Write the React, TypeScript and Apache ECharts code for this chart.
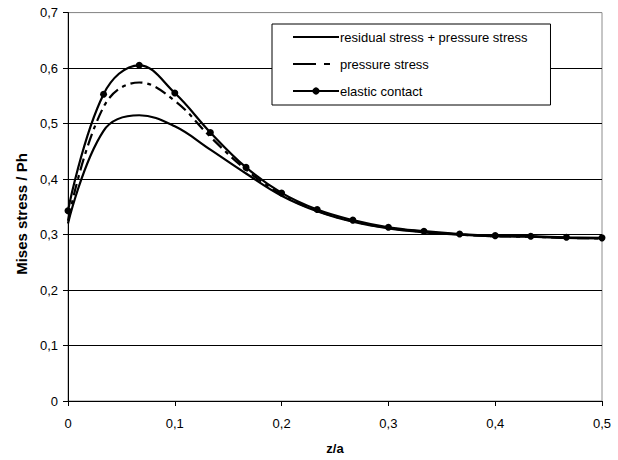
import React, { useEffect, useRef } from "react";
import * as echarts from "echarts";

const zValues = [0, 0.0333, 0.0667, 0.1, 0.1333, 0.1667, 0.2, 0.2333, 0.2667, 0.3, 0.3333, 0.3667, 0.4, 0.4333, 0.4667, 0.5];
const residualPressure = [0.32, 0.487, 0.515, 0.495, 0.453, 0.41, 0.37, 0.342, 0.323, 0.311, 0.304, 0.3, 0.297, 0.296, 0.294, 0.293];
const pressureStress = [0.325, 0.53, 0.574, 0.541, 0.476, 0.417, 0.372, 0.343, 0.324, 0.312, 0.305, 0.3, 0.297, 0.296, 0.294, 0.293];
const elasticContact = [0.343, 0.553, 0.605, 0.555, 0.484, 0.421, 0.375, 0.345, 0.326, 0.313, 0.306, 0.301, 0.298, 0.297, 0.295, 0.294];
const seriesNames = ["residual stress + pressure stress", "pressure stress", "elastic contact"];
const yTitle = "Mises stress / Ph";
const xTitle = "z/a";

const FONT = "'Liberation Sans', Arial, sans-serif";
const fmt = (v: number) => (v === 0 ? "0" : v.toFixed(1).replace(".", ","));
const pairs = (ys: number[]) => zValues.map((x, i) => [x, ys[i]]);

export default function App() {
  const ref = useRef<HTMLDivElement>(null);
  useEffect(() => {
    if (!ref.current) return;
    const chart = echarts.init(ref.current, null, { renderer: "svg" });
    chart.setOption({
      animation: false,
      backgroundColor: "#fff",
      textStyle: { fontFamily: FONT },
      grid: {
        left: 68,
        right: 16,
        top: 12.6,
        bottom: 54,
        show: true,
        borderColor: "#8c8c8c",
        borderWidth: 1,
        backgroundColor: "transparent",
      },
      legend: {
        orient: "vertical",
        left: 272,
        top: 24,
        itemWidth: 46,
        itemHeight: 9,
        itemGap: 13,
        padding: [6, 23, 7, 20],
        backgroundColor: "#fff",
        borderColor: "#000",
        borderWidth: 1,
        textStyle: { fontFamily: FONT, fontSize: 13, lineHeight: 14, color: "#000", padding: [0, 0, 0, -4] },
        data: [
          { name: seriesNames[0], itemStyle: { opacity: 0 } },
          { name: seriesNames[1], itemStyle: { opacity: 0 }, lineStyle: { type: [23, 8, 6, 20] } },
          { name: seriesNames[2] },
        ],
      },
      graphic: [
        {
          type: "text",
          x: 21.7,
          y: 214,
          rotation: Math.PI / 2,
          style: {
            text: yTitle,
            fontFamily: FONT,
            fontSize: 15,
            fontWeight: "bold",
            fill: "#000",
            align: "center",
            verticalAlign: "middle",
          },
        },
      ],
      xAxis: {
        type: "value",
        min: 0,
        max: 0.5,
        interval: 0.1,
        name: xTitle,
        nameLocation: "middle",
        nameGap: 41,
        nameTextStyle: { fontFamily: FONT, fontSize: 13, fontWeight: "bold", color: "#000" },
        axisLine: { show: true, lineStyle: { color: "#000", width: 1 } },
        axisTick: { show: true, length: 5, lineStyle: { color: "#000" } },
        axisLabel: { fontFamily: FONT, fontSize: 13, color: "#000", margin: 16, formatter: fmt },
        splitLine: { show: false },
      },
      yAxis: {
        type: "value",
        min: 0,
        max: 0.7,
        interval: 0.1,
        axisLine: { show: true, lineStyle: { color: "#000", width: 1 } },
        axisTick: { show: true, length: 5, lineStyle: { color: "#000" } },
        axisLabel: { fontFamily: FONT, fontSize: 13, color: "#000", margin: 10, formatter: fmt },
        splitLine: {
          show: true,
          lineStyle: { color: ["#000", "#000", "#000", "#000", "#000", "#000", "#000", "#8c8c8c"], width: 1 },
        },
      },
      series: [
        {
          name: seriesNames[0],
          type: "line",
          data: pairs(residualPressure),
          smooth: 0.4,
          symbol: "circle",
          showSymbol: false,
          lineStyle: { color: "#000", width: 2.2 },
          itemStyle: { color: "#000" },
        },
        {
          name: seriesNames[1],
          type: "line",
          data: pairs(pressureStress),
          smooth: 0.4,
          symbol: "circle",
          showSymbol: false,
          lineStyle: { color: "#000", width: 2.2, type: [12, 5, 4, 5] },
          itemStyle: { color: "#000" },
        },
        {
          name: seriesNames[2],
          type: "line",
          data: pairs(elasticContact),
          smooth: 0.4,
          symbol: "circle",
          symbolSize: 7,
          lineStyle: { color: "#000", width: 2.2 },
          itemStyle: { color: "#000" },
        },
      ],
    });
    return () => chart.dispose();
  }, []);
  return <div ref={ref} style={{ position: "fixed", left: 0, top: 0, width: 618, height: 460 }} />;
}
